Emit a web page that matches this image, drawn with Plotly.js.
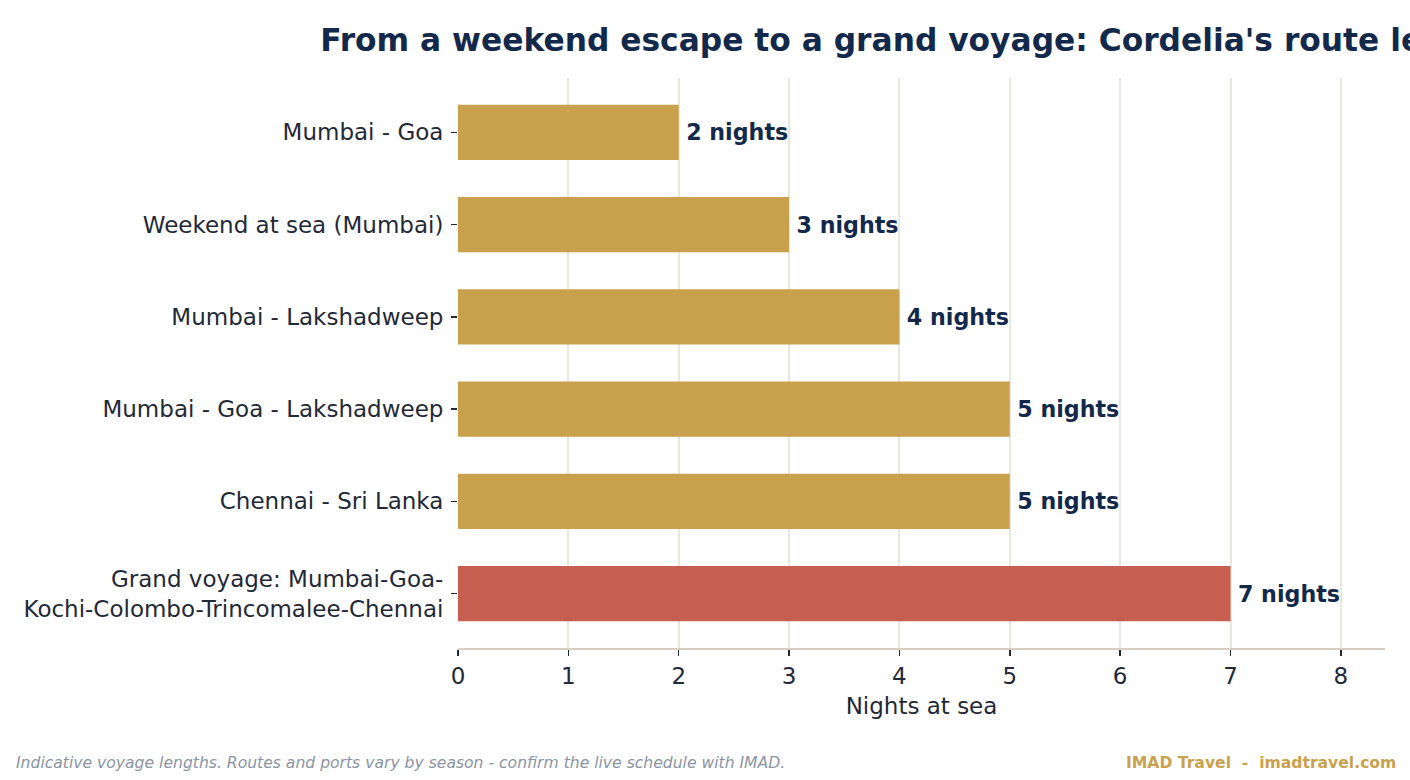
<!DOCTYPE html>
<html><head><meta charset="utf-8">
<script src="https://cdn.plot.ly/plotly-3.0.1.min.js"></script>
<style>html,body{margin:0;padding:0;background:#fff}#chart{width:1410px;height:780px}</style>
</head><body><div id="chart"></div>
<script>
const routes = [
  "Mumbai - Goa",
  "Weekend at sea (Mumbai)",
  "Mumbai - Lakshadweep",
  "Mumbai - Goa - Lakshadweep",
  "Chennai - Sri Lanka",
  "Grand voyage: Mumbai-Goa-<br>Kochi-Colombo-Trincomalee-Chennai"
];
const nights = [2, 3, 4, 5, 5, 7];
const barColors = ["#c9a14d", "#c9a14d", "#c9a14d", "#c9a14d", "#c9a14d", "#c65f4f"];
const titleText = "From a weekend escape to a grand voyage: Cordelia's route lengths";
const footLeft = "Indicative voyage lengths. Routes and ports vary by season - confirm the live schedule with IMAD.";
const footRight = "IMAD Travel  -  imadtravel.com";

const trace = {
  type: "bar", orientation: "h",
  x: nights, y: routes,
  marker: {color: barColors},
  width: 0.6,
  text: nights.map(n => "\u2009" + n + " nights"),
  texttemplate: "%{text}",
  textposition: "outside",
  cliponaxis: false,
  textfont: {family: "DejaVu Sans", size: 22.2, color: "#13294b", weight: "bold"},
  hoverinfo: "skip"
};
const layout = {
  width: 1410, height: 780,
  margin: {l: 458, r: 25, t: 78, b: 132},
  paper_bgcolor: "#ffffff", plot_bgcolor: "#ffffff",
  font: {family: "DejaVu Sans", color: "#1f2937"},
  showlegend: false,
  title: {text: "<b>" + titleText + "</b>", x: 0.5, xref: "paper", xanchor: "center",
          y: 0.949, yref: "container", yanchor: "middle",
          font: {family: "DejaVu Sans", size: 31.3, color: "#13294b"}},
  xaxis: {range: [0, 8.4], dtick: 1, tick0: 0, showgrid: true, gridcolor: "#ebe7dc", gridwidth: 2,
          zeroline: false, showline: true, linecolor: "#d8cdbf", linewidth: 2,
          ticks: "outside", ticklen: 6, tickcolor: "#1f2937", tickwidth: 1.5,
          tickfont: {size: 23, color: "#1f2937"},
          title: {text: "Nights at sea", font: {size: 23, color: "#1f2937"}, standoff: 10}},
  yaxis: {autorange: false, range: [5.59, -0.59], showgrid: false, zeroline: false, showline: false,
          ticks: "outside", ticklen: 6, tickcolor: "#1f2937", tickwidth: 1.5, ticklabelstandoff: 3,
          tickfont: {size: 23, color: "#1f2937"}},
  annotations: [
    {text: "<i>" + footLeft + "</i>", xref: "paper", yref: "paper", x: -458/927 + 14/927, y: -(763-648)/570,
     xanchor: "left", yanchor: "middle", showarrow: false,
     font: {family: "DejaVu Sans", size: 15.6, color: "#8a94a3"}},
    {text: "<b>" + footRight + "</b>", xref: "paper", yref: "paper", x: 1 + 13/927, y: -(763-648)/570,
     xanchor: "right", yanchor: "middle", showarrow: false,
     font: {family: "DejaVu Sans", size: 15.6, color: "#c9a14d"}}
  ]
};
Plotly.newPlot("chart", [trace], layout, {displayModeBar: false, staticPlot: true});
</script></body></html>
